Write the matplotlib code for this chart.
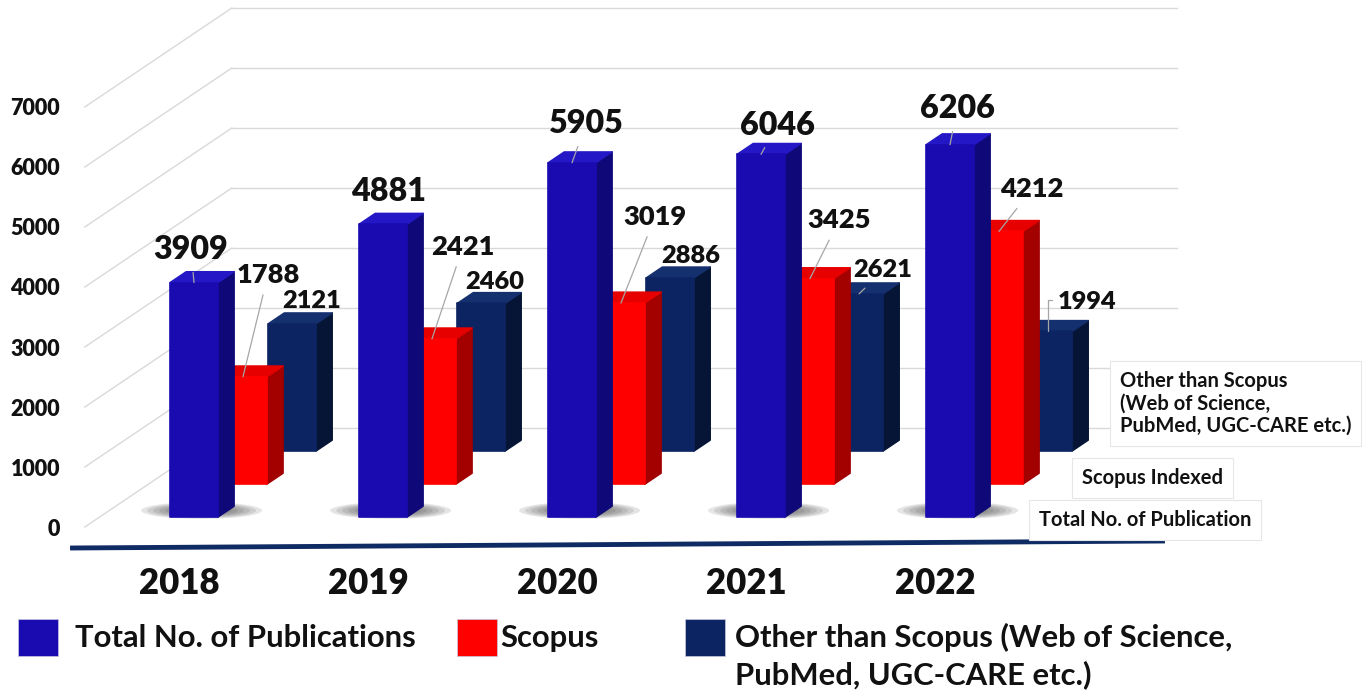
import matplotlib
matplotlib.use('Agg')
import matplotlib.pyplot as plt
from matplotlib import font_manager
from matplotlib.patches import Polygon, Ellipse, Rectangle
import numpy as np

# data
years = ['2018', '2019', '2020', '2021', '2022']
total = [3909, 4881, 5905, 6046, 6206]
scopus = [1788, 2421, 3019, 3425, 4212]
other = [2121, 2460, 2886, 2621, 1994]
y_ticks = [0, 1000, 2000, 3000, 4000, 5000, 6000, 7000]
legend_names = ['Total No. of Publications', 'Scopus',
                'Other than Scopus (Web of Science,\nPubMed, UGC-CARE etc.)']
depth_names = ['Total No. of Publication', 'Scopus Indexed',
               'Other than Scopus\n(Web of Science,\nPubMed, UGC-CARE etc.)']


def pick(*names):
    for n in names:
        try:
            font_manager.findfont(font_manager.FontProperties(family=n), fallback_to_default=False)
            return n
        except ValueError:
            pass
    return 'DejaVu Sans'


NUM_FONT = pick('Lato', 'Open Sans')
NARROW = pick('Liberation Sans Narrow', 'Lato')
if NARROW == 'Liberation Sans Narrow':
    year_fs, legend_fs = 30.8, 25.4
else:
    year_fs, legend_fs = 25, 22.3
WEIGHT = 'heavy'

W, H = 1367, 691
fig = plt.figure(figsize=(W / 100, H / 100), dpi=100)
ax = fig.add_axes([83 / W, 0, 1 - 83 / W, 1])
ax.set_xlim(-0.5095, 6.284)
ax.set_ylim(-2733, 8783)
ax.set_facecolor('none')
for s in ax.spines.values():
    s.set_visible(False)
ax.set_xticks([])

# oblique 3d look: one unit of depth moves things right and up
DX, DY = 0.778, 1650
XL, XR = -0.5, 4.5
ROW_D = [0.10, 0.433, 0.767]
THICK = 0.11
BAR_W = 0.254
grid = '#D9D9D9'

# walls
for v in y_ticks:
    ax.plot([XL, XL + DX], [v, v + DY], color=grid, lw=1, zorder=0)
    ax.plot([XL + DX, XR + DX], [v + DY, v + DY], color=grid, lw=1, zorder=0)

ax.set_yticks(y_ticks)
ax.set_yticklabels([str(t) for t in y_ticks], fontsize=15.5, fontweight=WEIGHT, family=NUM_FONT, color='#111111')
ax.tick_params(axis='y', length=0, pad=16.5)

colors = [('#1A0BB0', '#0E0878', '#2418C6'),
          ('#FF0000', '#A30000', '#E60000'),
          ('#0C2462', '#061536', '#14306F')]
series = [total, scopus, other]
label_fs = [23.2, 19.6, 18.3]
# label offsets from bar top (pixels, up positive) and leader style
offsets = [[(-3, 35), (6, 35), (14, 41), (16, 31), (7, 38)],
           [(25, 104), (31, 94), (34, 88), (29, 60), (33, 44)],
           [(20, 25), (14, 24), (21, 24), (24, 25.5), (39, 32)]]
leaders = [['line', None, 'line', 'line', 'line'],
           ['line', 'line', 'line', 'line', 'line'],
           [None, None, None, 'line', 'angle']]

x = np.arange(len(years))
tx, ty = THICK * DX, THICK * DY
for k in [2, 1, 0]:
    face, side, topc = colors[k]
    d0 = ROW_D[k]
    base = d0 * DY
    xc = x + d0 * DX
    vals = np.array(series[k])
    z = 10 + (2 - k) * 10
    bars = ax.bar(xc, vals, width=BAR_W, bottom=base, color=face, edgecolor=face,
                  lw=1.2, joinstyle='round', zorder=z + 2)
    for b, v in zip(bars, vals):
        x0 = b.get_x()
        x1 = x0 + b.get_width()
        top = base + v
        ax.add_patch(Polygon([(x1, base), (x1, top), (x1 + tx, top + ty), (x1 + tx, base + ty)],
                             closed=True, fc=side, ec=side, lw=1, joinstyle='round', zorder=z + 1))
        ax.add_patch(Polygon([(x0, top), (x1, top), (x1 + tx, top + ty), (x0 + tx, top + ty)],
                             closed=True, fc=topc, ec=topc, lw=1, joinstyle='round', zorder=z + 1))
        if k == 0:
            for j in range(6):
                f = 1 - j * 0.1
                ax.add_patch(Ellipse((x0 + BAR_W / 2 + 0.04, base + 110), 0.64 * f, 280 * f,
                                     fc='#3A3A3A', ec='none', alpha=0.13, zorder=z - 1))

    em = label_fs[k] * 100 / 72
    for i, v in enumerate(vals):
        dx, dy = offsets[k][i]
        style = leaders[k][i]
        props = None
        if style == 'line':
            props = dict(arrowstyle='-', color='#A6A6A6', lw=0.9, shrinkA=4, shrinkB=0)
        elif style == 'angle':
            props = dict(arrowstyle='-', color='#A6A6A6', lw=0.9, shrinkA=2, shrinkB=0,
                         relpos=(0, 0.55), connectionstyle='angle,angleA=180,angleB=90,rad=0')
        ax.annotate(str(v), xy=(xc[i], base + v), xytext=(dx, dy - 0.36 * em),
                    textcoords='offset pixels', ha='center', va='baseline',
                    fontsize=label_fs[k], fontweight=WEIGHT, family=NUM_FONT, color='#111111',
                    arrowprops=props, zorder=60)

# category labels on the front edge
yem = year_fs * 100 / 72
for i, yr in enumerate(years):
    ax.annotate(yr, xy=(i, 0), xytext=(0, -55 - 0.358 * yem), textcoords='offset pixels',
                ha='center', va='baseline', fontsize=year_fs, fontweight=WEIGHT,
                family=NARROW, color='#111111', annotation_clip=False)

# depth axis labels along the right floor edge
depth_off = [(-14, -8), (-20, 1), (-31, 42)]
for k in range(3):
    dc = ROW_D[k] + THICK / 2
    ax.annotate(depth_names[k], xy=(XR + dc * DX, dc * DY), xytext=depth_off[k],
                textcoords='offset pixels', ha='left', va='center', fontsize=14.5,
                fontweight='bold', family=NUM_FONT, color='#111111', linespacing=1.15,
                bbox=dict(boxstyle='square,pad=0.5', fc='white', ec='#E6E6E6', lw=0.8),
                annotation_clip=False, zorder=5)

# dark floor line
ax.plot([-0.578, 5.215], [-350, -233], color='#0F2B63', lw=3.5, solid_capstyle='butt',
        clip_on=False, zorder=3)

# legend
lem = legend_fs * 100 / 72
sq_x = [18, 457, 685]
txt_x = [75, 500, 735]
for k in range(3):
    fig.patches.append(Rectangle((sq_x[k] / W, 1 - 656 / H), 40 / W, 37 / H,
                                 transform=fig.transFigure, fc=colors[k][0], ec='#C8C8E0', lw=0.5))
    for j, line in enumerate(legend_names[k].split('\n')):
        base_py = 636 + 37 * j + 0.358 * lem
        fig.text(txt_x[k] / W, 1 - base_py / H, line, ha='left', va='baseline',
                 fontsize=legend_fs, fontweight='bold', family=NARROW, color='#111111')

fig.savefig('out.png', dpi=100)
